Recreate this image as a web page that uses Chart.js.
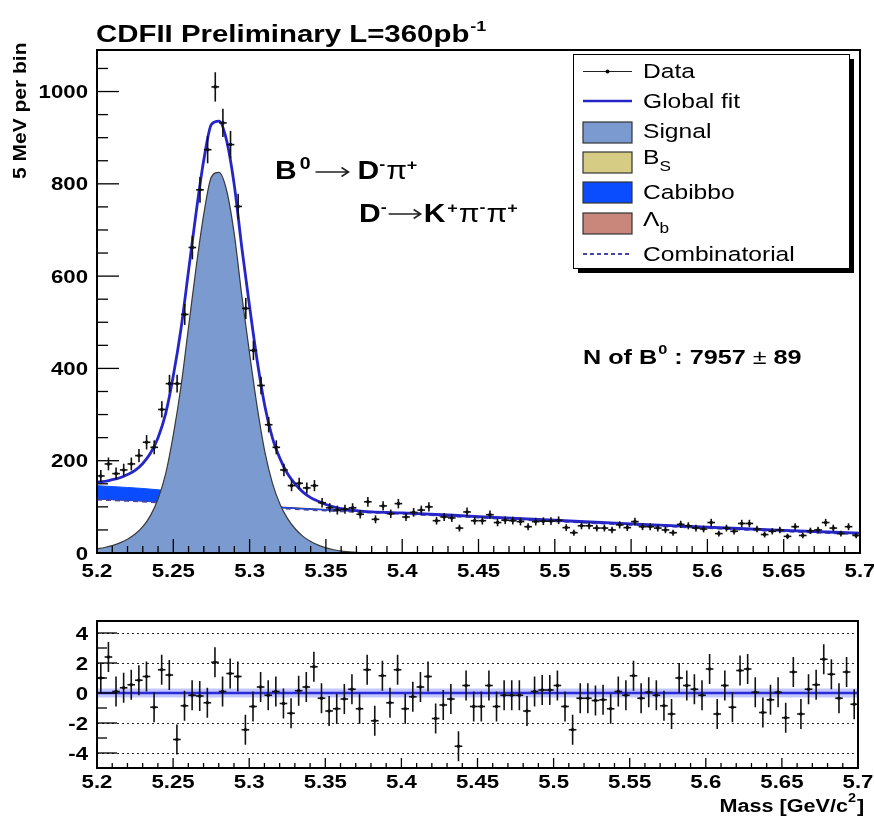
<!DOCTYPE html>
<html>
<head>
<meta charset="utf-8">
<script src="https://cdn.jsdelivr.net/npm/chart.js@4.4.1/dist/chart.umd.min.js"></script>
<style>
  body { margin: 0; background: #fff; }
  #wrap { position: relative; width: 874px; height: 821px; }
  canvas { position: absolute; left: 0; }
  #mainCanvas { top: 0; }
  #pullCanvas { top: 600px; }
</style>
</head>
<body>
<div id="wrap">
  <canvas id="mainCanvas" width="874" height="600"></canvas>
  <canvas id="pullCanvas" width="874" height="221"></canvas>
</div>
<script>
// binning: 5 MeV bins from 5.2 to 5.7 GeV
const binLow = 5.2;
const binWidth = 0.005;

// events per bin
const counts = [
  167, 193, 172, 180, 193, 211, 240, 229, 311, 367,
  367, 517, 662, 787, 874, 1010, 932, 885, 751, 530,
  439, 363, 278, 229, 180, 146, 151, 141, 146, 109,
  98, 93, 95, 98, 84, 111, 73, 102, 85, 107,
  78, 88, 93, 100, 70, 78, 76, 54, 89, 70,
  70, 83, 66, 71, 70, 68, 57, 68, 69, 69,
  71, 55, 44, 59, 59, 54, 54, 50, 61, 55,
  68, 57, 57, 54, 50, 44, 62, 59, 54, 52,
  66, 42, 54, 47, 64, 64, 52, 40, 47, 50,
  36, 57, 38, 48, 50, 66, 54, 42, 57, 38
];

// pulls in the lower pad
const pulls = [
  1.0, 2.4, 0.1, 0.35, 0.55, 0.85, 1.1, -0.95, 1.55, 1.2,
  -3.1, -0.85, -0.15, -0.2, -0.65, 2.05, 0.1, 1.3, 1.1, -2.45,
  -0.9, 0.4, -0.15, 0.1, -0.7, -1.35, 0.15, 0.4, 1.75, -0.35,
  -1.2, -1.05, -0.4, 0.25, -1.05, 1.55, -1.85, 1.15, -0.65, 1.55,
  -1.05, -0.25, 0.4, 1.1, -1.7, -0.8, -0.4, -3.55, 0.5, -0.9,
  -0.9, 0.5, -0.9, -0.15, -0.15, -0.15, -1.2, 0.1, 0.2, 0.2,
  0.5, -0.9, -2.45, -0.35, -0.35, -0.5, -0.45, -1.05, 0.1, -0.15,
  1.15, -0.35, 0.05, -0.15, -0.85, -1.4, 1.0, 0.5, 0.25, -0.15,
  1.6, -1.4, 0.5, -0.95, 1.5, 1.6, 0.05, -1.3, -0.45, 0.05,
  -1.65, 1.4, -1.4, 0.25, 0.55, 2.25, 1.25, -0.35, 1.4, -0.75
];

// signal shape
const signalMass = [5.200, 5.205, 5.210, 5.215, 5.220, 5.225, 5.230, 5.235, 5.240, 5.245,
  5.250, 5.255, 5.260, 5.265, 5.270, 5.275, 5.280, 5.285, 5.290, 5.295,
  5.300, 5.305, 5.310, 5.315, 5.320, 5.325, 5.330, 5.335, 5.340, 5.345,
  5.350, 5.355, 5.360, 5.370, 5.380];
const signalYield = [9, 12, 16, 22, 30, 41, 57, 81, 117, 172,
  256, 360, 490, 620, 735, 815, 825, 785, 690, 555,
  432, 316, 219, 151, 105, 74, 52, 36, 25, 17,
  11, 7, 4, 1.5, 0];

// global fit
const fitMass = [5.200, 5.205, 5.210, 5.215, 5.220, 5.225, 5.230, 5.235, 5.240, 5.245,
  5.250, 5.255, 5.260, 5.265, 5.270, 5.275, 5.280, 5.285, 5.290, 5.295,
  5.300, 5.305, 5.310, 5.315, 5.320, 5.325, 5.330, 5.335, 5.340, 5.345,
  5.350, 5.355, 5.360, 5.370, 5.380, 5.400, 5.450, 5.500, 5.550, 5.600,
  5.650, 5.700];
const fitYield = [154, 155, 159, 163, 170, 179, 194, 216, 250, 302,
  384, 485, 612, 739, 852, 929, 936, 893, 796, 659,
  534, 416, 318, 249, 204, 171, 149, 132, 120, 112,
  105, 100, 96, 92, 89, 87, 79, 71, 63, 56,
  49, 43];

// background components (stacked)
const bkgMass = [5.20, 5.22, 5.24, 5.26, 5.28, 5.30, 5.32, 5.35, 5.40, 5.45, 5.50, 5.55, 5.60, 5.65, 5.70];
const combYield = [116, 113, 110, 107, 104, 100, 97, 92, 85, 77, 69, 61, 54, 47, 41];
const lambdaTop = [118, 115, 112, 109, 106, 102, 99, 94, 87, 79, 71, 63, 56, 49, 43];
const cabibboTop = [146, 142, 137, 128, 117, 106, 99, 94, 87, 79, 71, 63, 56, 49, 43];

// axis ticks
const massTicks = [5.2, 5.25, 5.3, 5.35, 5.4, 5.45, 5.5, 5.55, 5.6, 5.65, 5.7];
const countTicks = [0, 200, 400, 600, 800, 1000];
const pullTicks = [-4, -2, 0, 2, 4];

const FONT = '"Liberation Sans", Arial, Helvetica, sans-serif';
const STRETCH = 1.2;

const cSignal = '#7a9ad0';
const cBs = '#d6cc84';
const cCabibbo = '#0a4cff';
const cLambda = '#c8877a';
const cFit = '#2626c8';
const cComb = '#4646a8';

const pts = (xs, ys) => xs.map((x, i) => ({ x, y: ys[i] }));
const binCentres = counts.map((_, i) => binLow + binWidth * (i + 0.5));

function putText(ctx, str, x, y, size, opts = {}) {
  ctx.save();
  ctx.font = `${opts.weight || 'bold'} ${size}px ${FONT}`;
  ctx.fillStyle = opts.color || '#000';
  ctx.textBaseline = 'alphabetic';
  const w = ctx.measureText(str).width * STRETCH;
  let x0 = x;
  if (opts.align === 'right') x0 = x - w;
  if (opts.align === 'center') x0 = x - w / 2;
  ctx.translate(x0, y);
  ctx.scale(STRETCH, 1);
  ctx.fillText(str, 0, 0);
  ctx.restore();
  return w;
}

// pieces: {t, dy, k (size factor), pre, weight}
function putRich(ctx, parts, x, y, size, weight) {
  let cx = x;
  for (const p of parts) {
    cx += p.pre || 0;
    cx += putText(ctx, p.t, cx, y + (p.dy || 0), size * (p.k || 1), { weight: p.weight || weight });
  }
  return cx;
}

function arrow(ctx, x1, x2, y) {
  ctx.save();
  ctx.strokeStyle = '#222';
  ctx.lineWidth = 1.6;
  ctx.beginPath();
  ctx.moveTo(x1, y); ctx.lineTo(x2, y);
  ctx.moveTo(x2 - 7, y - 4.5); ctx.lineTo(x2, y); ctx.lineTo(x2 - 7, y + 4.5);
  ctx.stroke();
  ctx.restore();
}

function line(ctx, x1, y1, x2, y2) {
  ctx.beginPath(); ctx.moveTo(x1, y1); ctx.lineTo(x2, y2); ctx.stroke();
}

// ROOT-like frame, inward ticks and labels
function drawAxes(chart, cfg) {
  const { ctx, chartArea: a, scales } = chart;
  const xs = scales.x, ys = scales.y;
  ctx.save();
  ctx.strokeStyle = '#000';
  ctx.lineWidth = 1.3;
  for (let k = 0; k <= 50; k++) {
    const px = xs.getPixelForValue(binLow + k * 0.01);
    const len = k % 5 === 0 ? cfg.xMajor : cfg.xMinor;
    line(ctx, px, a.bottom, px, a.bottom - len);
  }
  for (let v = cfg.yFrom; v <= cfg.yTo + 1e-9; v += cfg.yMinorStep) {
    const py = ys.getPixelForValue(v);
    const major = cfg.yMajors.some(t => Math.abs(t - v) < 1e-6);
    line(ctx, a.left, py, a.left + (major ? cfg.yMajor : cfg.yMinor), py);
  }
  ctx.lineWidth = 2;
  ctx.strokeRect(a.left, a.top, a.right - a.left, a.bottom - a.top);
  ctx.restore();
  massTicks.forEach(m => {
    putText(ctx, String(m), xs.getPixelForValue(m), a.bottom + cfg.xLabelDy, 18.5, { align: 'center' });
  });
  cfg.yMajors.forEach(v => {
    putText(ctx, String(v), a.left - 9, ys.getPixelForValue(v) + 6.5, 18.5, { align: 'right' });
  });
}

const mainDecor = {
  id: 'mainDecor',
  afterDatasetsDraw(chart) {
    const { ctx, scales } = chart;
    const xs = scales.x, ys = scales.y;
    ctx.save();
    ctx.strokeStyle = '#111';
    ctx.lineWidth = 1.6;
    counts.forEach((n, i) => {
      const m = binCentres[i];
      const err = Math.sqrt(n);
      const px = xs.getPixelForValue(m);
      const py = ys.getPixelForValue(n);
      line(ctx, px, ys.getPixelForValue(n - err), px, ys.getPixelForValue(n + err));
      line(ctx, xs.getPixelForValue(m - binWidth / 2), py, xs.getPixelForValue(m + binWidth / 2), py);
    });
    ctx.restore();
  },
  afterDraw(chart) {
    const ctx = chart.ctx;
    drawAxes(chart, {
      xMajor: 14, xMinor: 7, yMajor: 22, yMinor: 11,
      yFrom: 0, yTo: 1050, yMinorStep: 50, yMajors: countTicks, xLabelDy: 24
    });

    // title
    const tEnd = putText(ctx, 'CDFII Preliminary L=360pb', 96, 42, 24.5) + 96;
    putText(ctx, '-1', tEnd + 1, 31, 15);

    // y axis title
    ctx.save();
    ctx.translate(26, 179);
    ctx.rotate(-Math.PI / 2);
    putText(ctx, '5 MeV per bin', 0, 0, 17.5);
    ctx.restore();

    // decay labels
    let x = putRich(ctx, [{ t: 'B' }, { t: '0', dy: -10, k: 0.65, pre: 3 }], 275, 179, 25, 'bold');
    arrow(ctx, x + 5, x + 38, 172);
    putRich(ctx, [{ t: 'D', pre: 4 }, { t: '-', dy: -10, k: 0.6 }, { t: 'π', weight: 'normal', pre: 1 }, { t: '+', dy: -9, k: 0.6 }], x + 43, 179, 25, 'bold');

    x = putRich(ctx, [{ t: 'D' }, { t: '-', dy: -10, k: 0.6 }], 359, 222, 25, 'bold');
    arrow(ctx, x + 2, x + 34, 214);
    putRich(ctx, [{ t: 'K' }, { t: '+', dy: -9, k: 0.6, pre: 2 }, { t: 'π', weight: 'normal', pre: 1 },
      { t: '-', dy: -10, k: 0.6 }, { t: 'π', weight: 'normal', pre: 1 }, { t: '+', dy: -9, k: 0.6 }], x + 37, 222, 25, 'bold');

    // yield
    putRich(ctx, [{ t: 'N of B' }, { t: '0', dy: -10, k: 0.65, pre: 1 }, { t: ' : 7957 ' },
      { t: '±', weight: 'normal' }, { t: ' 89' }], 583, 364, 21, 'bold');

    // legend box with ROOT shadow
    const L = { l: 573, t: 54, r: 849, b: 268 };
    ctx.save();
    ctx.fillStyle = '#000';
    ctx.fillRect(L.l + 5, L.t + 5, L.r - L.l, L.b - L.t);
    ctx.fillStyle = '#fff';
    ctx.fillRect(L.l, L.t, L.r - L.l, L.b - L.t);
    ctx.strokeStyle = '#000';
    ctx.lineWidth = 1;
    ctx.strokeRect(L.l + 0.5, L.t + 0.5, L.r - L.l, L.b - L.t);

    const sx1 = 583, sx2 = 632, tx = 643;
    ctx.strokeStyle = '#222'; ctx.lineWidth = 1.2;
    line(ctx, sx1, 71.5, sx2, 71.5);
    ctx.fillStyle = '#000';
    ctx.beginPath(); ctx.arc((sx1 + sx2) / 2, 71.5, 2, 0, Math.PI * 2); ctx.fill();
    ctx.strokeStyle = cFit; ctx.lineWidth = 2.5;
    line(ctx, sx1, 101, sx2, 101);
    const boxes = [[122, cSignal], [152, cBs], [182, cCabibbo], [213, cLambda]];
    boxes.forEach(([y, c]) => {
      ctx.fillStyle = c;
      ctx.fillRect(sx1, y, sx2 - sx1, 21);
      ctx.strokeStyle = '#333'; ctx.lineWidth = 1.2;
      ctx.strokeRect(sx1, y, sx2 - sx1, 21);
    });
    ctx.strokeStyle = cComb; ctx.lineWidth = 2;
    ctx.setLineDash([4, 3]);
    line(ctx, sx1, 254, sx2, 254);
    ctx.setLineDash([]);
    ctx.restore();

    putText(ctx, 'Data', tx, 78, 20.5, { weight: 'normal' });
    putText(ctx, 'Global fit', tx, 108, 20.5, { weight: 'normal' });
    putText(ctx, 'Signal', tx, 138, 20.5, { weight: 'normal' });
    putRich(ctx, [{ t: 'B' }, { t: 'S', dy: 7, k: 0.7 }], tx, 164, 20.5, 'normal');
    putText(ctx, 'Cabibbo', tx, 199, 20.5, { weight: 'normal' });
    putRich(ctx, [{ t: 'Λ' }, { t: 'b', dy: 7, k: 0.7 }], tx, 226, 20.5, 'normal');
    putText(ctx, 'Combinatorial', tx, 261, 20.5, { weight: 'normal' });
  }
};

const pullDecor = {
  id: 'pullDecor',
  beforeDatasetsDraw(chart) {
    const { ctx, chartArea: a, scales } = chart;
    ctx.save();
    ctx.strokeStyle = '#222';
    ctx.lineWidth = 1;
    ctx.setLineDash([2, 3]);
    pullTicks.filter(v => v !== 0).forEach(v => {
      const py = Math.round(scales.y.getPixelForValue(v)) + 0.5;
      line(ctx, a.left, py, a.right, py);
    });
    ctx.restore();
  },
  afterDatasetsDraw(chart) {
    const { ctx, scales } = chart;
    const xs = scales.x, ys = scales.y;
    ctx.save();
    ctx.strokeStyle = '#111';
    ctx.lineWidth = 1.6;
    pulls.forEach((p, i) => {
      const m = binCentres[i];
      const px = xs.getPixelForValue(m);
      const py = ys.getPixelForValue(p);
      line(ctx, px, ys.getPixelForValue(p - 1), px, ys.getPixelForValue(p + 1));
      line(ctx, xs.getPixelForValue(m - binWidth / 2), py, xs.getPixelForValue(m + binWidth / 2), py);
    });
    ctx.restore();
  },
  afterDraw(chart) {
    const ctx = chart.ctx;
    drawAxes(chart, {
      xMajor: 10, xMinor: 5, yMajor: 20, yMinor: 10,
      yFrom: -4, yTo: 4, yMinorStep: 1, yMajors: pullTicks, xLabelDy: 20
    });
    putText(ctx, 'Mass [GeV/c', 848, 212, 18, { align: 'right' });
    putText(ctx, '2', 848, 202, 12);
    putText(ctx, ']', 857, 212, 18);
  }
};

const hidden = { display: false };

new Chart(document.getElementById('mainCanvas'), {
  type: 'line',
  data: {
    datasets: [
      { label: 'Data', data: pts(binCentres, counts), showLine: false, pointRadius: 1.8,
        pointBackgroundColor: '#000', pointBorderWidth: 0, order: 0 },
      { label: 'Global fit', data: pts(fitMass, fitYield), borderColor: cFit, borderWidth: 2.8,
        pointRadius: 0, cubicInterpolationMode: 'monotone', fill: false, order: 1 },
      { label: 'Signal', data: pts(signalMass, signalYield), borderColor: '#3a3a3a', borderWidth: 1.2,
        backgroundColor: cSignal, pointRadius: 0, cubicInterpolationMode: 'monotone', fill: 'origin', order: 2 },
      { label: 'Combinatorial', data: pts(bkgMass, combYield), borderColor: cComb, borderWidth: 2,
        borderDash: [5, 4], pointRadius: 0, fill: false, order: 3 },
      { label: 'Lambda_b', data: pts(bkgMass, lambdaTop), borderColor: '#4a2a2a', borderWidth: 1.4,
        backgroundColor: cLambda, pointRadius: 0, fill: 3, order: 5 },
      { label: 'Cabibbo', data: pts(bkgMass, cabibboTop), borderColor: cCabibbo, borderWidth: 1,
        backgroundColor: cCabibbo, pointRadius: 0, cubicInterpolationMode: 'monotone', fill: 3, order: 4 }
    ]
  },
  options: {
    responsive: false,
    animation: false,
    layout: { padding: { left: 0, right: 14, top: 50, bottom: 0 } },
    scales: {
      x: { type: 'linear', min: 5.2, max: 5.7, ticks: hidden, grid: hidden, border: hidden,
        afterFit: s => { s.height = 47; } },
      y: { type: 'linear', min: 0, max: 1090, ticks: hidden, grid: hidden, border: hidden,
        afterFit: s => { s.width = 97; } }
    },
    plugins: { legend: hidden, tooltip: { enabled: false } }
  },
  plugins: [mainDecor]
});

new Chart(document.getElementById('pullCanvas'), {
  type: 'line',
  data: {
    datasets: [
      { label: 'pulls', data: pts(binCentres, pulls), showLine: false, pointRadius: 1.8,
        pointBackgroundColor: '#000', pointBorderWidth: 0, order: 0 },
      { label: 'zero', data: [{ x: 5.2, y: 0 }, { x: 5.7, y: 0 }], borderColor: '#2a2ad8',
        borderWidth: 2.6, pointRadius: 0, order: 1 },
      { label: 'zero band', data: [{ x: 5.2, y: 0 }, { x: 5.7, y: 0 }], borderColor: 'rgba(120,130,255,0.45)',
        borderWidth: 9, pointRadius: 0, order: 2 }
    ]
  },
  options: {
    responsive: false,
    animation: false,
    layout: { padding: { left: 0, right: 16, top: 21, bottom: 0 } },
    scales: {
      x: { type: 'linear', min: 5.2, max: 5.7, ticks: hidden, grid: hidden, border: hidden,
        afterFit: s => { s.height = 53; } },
      y: { type: 'linear', min: -5, max: 4.8, ticks: hidden, grid: hidden, border: hidden,
        afterFit: s => { s.width = 97; } }
    },
    plugins: { legend: hidden, tooltip: { enabled: false } }
  },
  plugins: [pullDecor]
});
</script>
</body>
</html>
